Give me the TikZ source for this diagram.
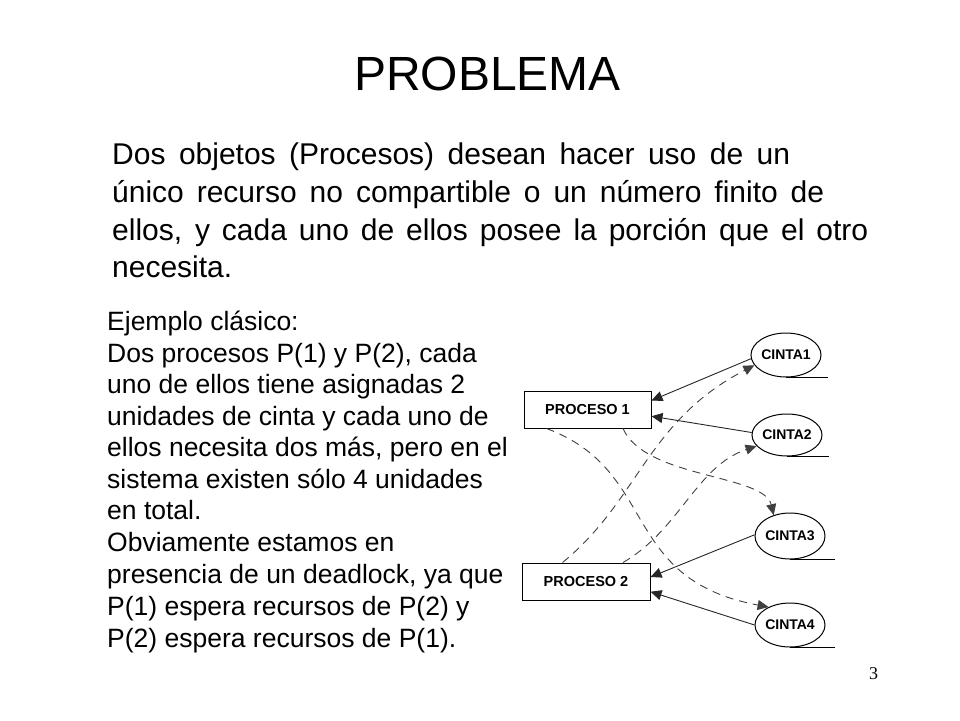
\documentclass[tikz,border=0pt]{standalone}
\usepackage{fontspec}
\setmainfont{Liberation Sans}
\newfontfamily\pgnumfont{Liberation Serif}
\usetikzlibrary{arrows.meta,shapes.geometric,calc}
\begin{document}
\begin{tikzpicture}[x=1pt,y=-1pt,
  txt/.style={inner sep=0pt, anchor=base west},
  bigtxt/.style={txt, font=\fontsize{30}{36}\selectfont},
  lefttxt/.style={txt, font=\fontsize{26.5}{31}\selectfont},
  proc/.style={draw, line width=1pt, minimum width=127pt, minimum height=37pt, inner sep=0pt, font=\bfseries\fontsize{14.5}{16}\selectfont},
  tape/.style={draw, ellipse, line width=1pt, inner sep=0pt, font=\bfseries\fontsize{14}{15}\selectfont},
  hold/.style={line width=0.9pt, black!85, -{Triangle[length=11pt,width=10pt]}},
  want/.style={line width=0.9pt, black!75, dash pattern=on 8pt off 6pt, -{Triangle[length=11pt,width=10pt]}},
  uline/.style={line width=1pt},
]
\fill[white] (0,0) rectangle (960,720);
\useasboundingbox (0,0) rectangle (960,720);

% title
\node[anchor=base, inner sep=0pt, font=\fontsize{48}{56}\selectfont] (title) at (487.5,90) {PROBLEMA};

% top paragraph
\node[bigtxt] (l1) at (112,164) {\makebox[678pt][s]{Dos objetos (Procesos) desean hacer uso de un}};
\node[bigtxt] (l2) at (112,202) {\makebox[712pt][s]{único recurso no compartible o un número finito de}};
\node[bigtxt] (l3) at (112,240) {\makebox[756pt][s]{ellos, y cada uno de ellos posee la porción que el otro}};
\node[bigtxt] (l4) at (112,277) {necesita.};

% left text
\node[lefttxt] (t1) at (107,330) {Ejemplo clásico:};
\node[lefttxt] (t2) at (107,362) {Dos procesos P(1) y P(2), cada};
\node[lefttxt] (t3) at (107,393.5) {uno de ellos tiene asignadas 2};
\node[lefttxt] (t4) at (107,425) {unidades de cinta y cada uno de};
\node[lefttxt] (t5) at (107,456.5) {ellos necesita dos más, pero en el};
\node[lefttxt] (t6) at (107,488) {sistema existen sólo 4 unidades};
\node[lefttxt] (t7) at (107,519.5) {en total.};
\node[lefttxt] (t8) at (107,551) {Obviamente estamos en};
\node[lefttxt] (t9) at (107,583) {presencia de un deadlock, ya que};
\node[lefttxt] (t10) at (107,615) {P(1) espera recursos de P(2) y};
\node[lefttxt] (t11) at (107,647) {P(2) espera recursos de P(1).};

% diagram nodes
\node[proc] (p1) at (587.5,409.5) {PROCESO 1};
\node[proc, minimum width=128pt] (p2) at (586,581.5) {PROCESO 2};
\node[tape, minimum width=61pt, minimum height=44pt] (c1) at (786,355) {CINTA1};
\node[tape, minimum width=60pt, minimum height=42pt] (c2) at (787,435) {CINTA2};
\node[tape, minimum width=60pt, minimum height=46pt] (c3) at (790,536) {CINTA3};
\node[tape, minimum width=60pt, minimum height=44pt] (c4) at (790,625) {CINTA4};

% underlines
\draw[uline] (c1.south) -- ++(42,0);
\draw[uline] (c2.south) -- ++(42,0);
\draw[uline] (c3.south) -- ++(45,0);
\draw[uline] (c4.south) -- ++(45,0);

% held resources (solid)
\draw[hold] (c1.186) -- (p1.8.5);
\draw[hold] (c2.176) -- (p1.-6.7);
\draw[hold] (c3.178) -- (p2.4);
\draw[hold] (c4.180) -- (p2.-9.3);

% requested resources (dashed)
\draw[want] ($(p1.south)+(35.5,0)$) .. controls +(22,50) and +(-9.6,-41) .. (c3.128);
\draw[want] ($(p1.south west)+(23,0)$) .. controls +(113,42) and +(-150,-28) .. (c4.140);
\draw[want] ($(p2.north west)+(41,0)$) .. controls +(77,-63) and +(-108,56) .. (c1.198);
\draw[want] ($(p2.north)+(37,0)$) .. controls +(57,-33) and +(-60,20) .. (c2.200);

% page number
\node[anchor=base, inner sep=0pt, font=\pgnumfont\fontsize{18}{20}\selectfont] (pg) at (873.5,679) {3};
\end{tikzpicture}
\end{document}
